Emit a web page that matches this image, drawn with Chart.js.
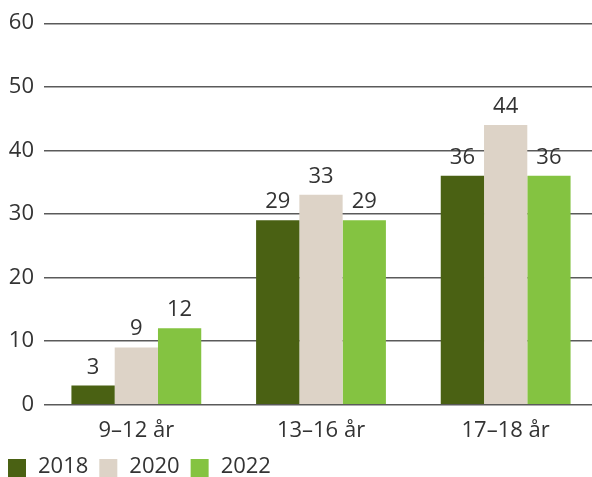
<!DOCTYPE html>
<html><head><meta charset="utf-8">
<script src="https://cdn.jsdelivr.net/npm/chart.js@4/dist/chart.umd.min.js"></script>
<style>html,body{margin:0;padding:0;background:#fff;overflow:hidden}#w{width:598px;height:477px}</style>
</head><body><div id="w"><canvas id="c"></canvas></div>
<script>
const categories = ["9–12 år", "13–16 år", "17–18 år"];
const seriesNames = ["2018", "2020", "2022"];
const values2018 = [3, 29, 36];
const values2020 = [9, 33, 44];
const values2022 = [12, 29, 36];
const yTicks = [0, 10, 20, 30, 40, 50, 60];
const colors = ["#4a6113", "#ddd3c7", "#84c341"];

const FONT = "'Open Sans', 'Noto Sans', sans-serif";
const TXT = "#333333";
const FS = 22;

const valueLabels = {
  id: "valueLabels",
  afterDatasetsDraw(chart) {
    const ctx = chart.ctx;
    ctx.save();
    ctx.font = FS + "px " + FONT;
    ctx.fillStyle = TXT;
    ctx.textAlign = "center";
    ctx.textBaseline = "alphabetic";
    chart.data.datasets.forEach((ds, i) => {
      chart.getDatasetMeta(i).data.forEach((bar, j) => {
        ctx.fillText(String(ds.data[j]), bar.x, bar.y - 12);
      });
    });
    ctx.restore();
  }
};

const customLegend = {
  id: "customLegend",
  afterDraw(chart) {
    const ctx = chart.ctx;
    ctx.save();
    ctx.font = FS + "px " + FONT;
    ctx.textBaseline = "middle";
    ctx.textAlign = "left";
    let x = 8;
    const boxTop = 459, box = 18, cy = 467;
    chart.data.datasets.forEach(ds => {
      ctx.fillStyle = ds.backgroundColor;
      ctx.fillRect(x, boxTop, box, box);
      x += box + 12;
      ctx.fillStyle = TXT;
      ctx.fillText(ds.label, x, cy);
      x += ctx.measureText(ds.label).width + 11;
    });
    ctx.restore();
  }
};

new Chart(document.getElementById("c"), {
  type: "bar",
  data: {
    labels: categories,
    datasets: [
      { label: seriesNames[0], data: values2018, backgroundColor: colors[0] },
      { label: seriesNames[1], data: values2020, backgroundColor: colors[1] },
      { label: seriesNames[2], data: values2022, backgroundColor: colors[2] }
    ]
  },
  options: {
    responsive: true,
    maintainAspectRatio: false,
    animation: false,
    layout: { padding: { top: 14, right: 0, left: 0, bottom: 28 } },
    datasets: { bar: { categoryPercentage: 0.703, barPercentage: 1.0 } },
    scales: {
      x: {
        grid: { display: false },
        border: { display: false },
        ticks: { color: TXT, font: { family: FONT, size: FS }, padding: 5 }
      },
      y: {
        min: 0, max: 60,
        afterBuildTicks(axis) { axis.ticks = yTicks.map(v => ({ value: v })); },
        afterFit(axis) { axis.width = 44; },
        grid: { color: "#5a5a5a", lineWidth: 1.4, drawTicks: false },
        border: { display: false },
        ticks: { color: TXT, font: { family: FONT, size: FS }, padding: 10 }
      }
    },
    plugins: {
      legend: { display: false },
      tooltip: { enabled: false }
    }
  },
  plugins: [valueLabels, customLegend]
});
</script></body></html>
